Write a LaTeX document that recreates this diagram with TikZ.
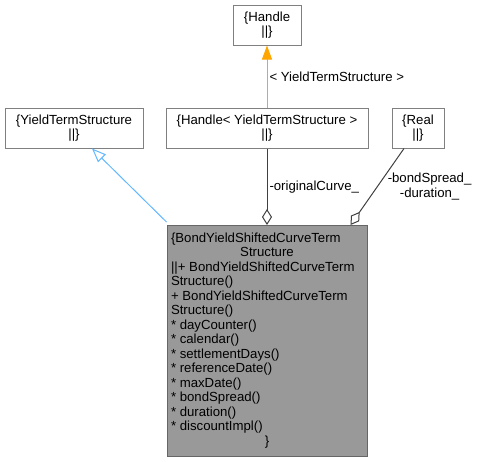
\documentclass[tikz,border=0pt]{standalone}
\usepackage{fontspec}
\setmainfont{Liberation Sans}
\usetikzlibrary{arrows.meta}
\definecolor{BoxBorder}{RGB}{128,128,128}
\definecolor{MainFill}{RGB}{153,153,153}
\definecolor{MainBorder}{RGB}{102,102,102}
\definecolor{EdgeGray}{RGB}{64,64,64}
\definecolor{TemplOrange}{RGB}{255,165,0}
\definecolor{InheritBlue}{RGB}{99,184,255}

\begin{document}
\begin{tikzpicture}[x=1pt, y=-1pt,
    every node/.style={font=\fontsize{13.2}{14.5}\selectfont, align=center},
    classbox/.style={draw=BoxBorder, fill=white, line width=1pt, inner sep=0pt,
      minimum height=40pt},
    edgelabel/.style={inner sep=2pt, text=black}]
  \useasboundingbox (0,0) rectangle (477,461);
  % class boxes
  \node[classbox, minimum width=68pt] (handle) at (267,25) {\{Handle\\||\}};
  \node[classbox, minimum width=138pt] (yts) at (74,128) {\{YieldTermStructure\\||\}};
  \node[classbox, minimum width=202pt] (handleyts) at (267,128)
    {\{Handle< YieldTermStructure >\\||\}};
  \node[classbox, minimum width=52pt] (real) at (418,128) {\{Real\\||\}};
  \node[draw=MainBorder, fill=MainFill, line width=1pt, inner sep=0pt,
        minimum width=200pt, minimum height=231pt, anchor=north] (shifted) at (267,225)
    {\begin{tabular}{@{}p{192pt}@{}}
       \{BondYieldShiftedCurveTerm\\
       \multicolumn{1}{@{}c@{}}{Structure}\\
       ||+ BondYieldShiftedCurveTerm\\
       Structure()\\
       + BondYieldShiftedCurveTerm\\
       Structure()\\
       {}* dayCounter()\\
       {}* calendar()\\
       {}* settlementDays()\\
       {}* referenceDate()\\
       {}* maxDate()\\
       {}* bondSpread()\\
       {}* duration()\\
       {}* discountImpl()\\
       \multicolumn{1}{@{}c@{}}{\}}
     \end{tabular}};
  % connectors
  \draw[TemplOrange, line width=1pt, -{Triangle[length=14pt, width=10pt]}]
    (handleyts.north) -- node[right, edgelabel] {< YieldTermStructure >} (handle.south);
  \draw[InheritBlue, line width=1pt, -{Triangle[open, length=14pt, width=11pt]}]
    ([yshift=3pt]shifted.north west) -- ([xshift=18pt]yts.south);
  \draw[EdgeGray, line width=1pt, {Diamond[open, length=16pt, width=10pt]}-]
    (shifted.north) -- node[right, edgelabel] {-originalCurve\_} (handleyts.south);
  \draw[EdgeGray, line width=1pt, {Diamond[open, length=16pt, width=10pt]}-]
    ([xshift=-17pt]shifted.north east) -- node[right, edgelabel, xshift=8pt]
    {-bondSpread\_\\-duration\_} ([xshift=-14pt]real.south);
\end{tikzpicture}
\end{document}
